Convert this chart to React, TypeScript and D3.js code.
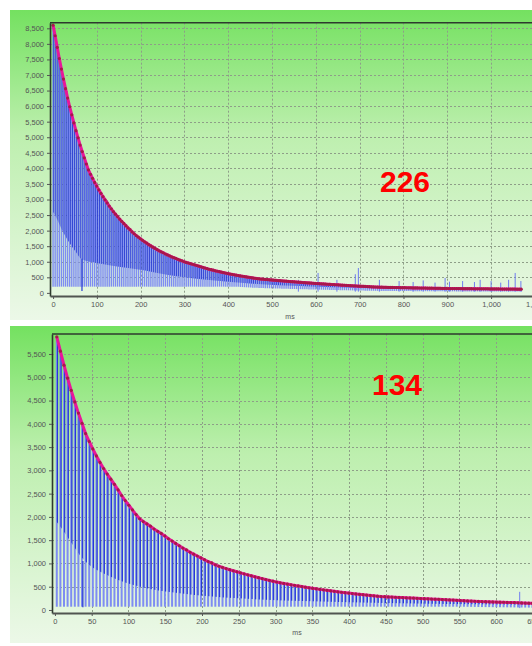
import React, { useRef, useEffect } from "react";
import * as d3 from "d3";

// top chart: 226 peaks, one every ~4.75 ms, heights
const peaks226 = [
  8600, 8260, 7890, 7530, 7190, 6870, 6560, 6260, 5980, 5720,
  5460, 5210, 4980, 4750, 4540, 4340, 4140, 3950, 3810, 3680,
  3550, 3430, 3310, 3200, 3090, 2990, 2890, 2790, 2700, 2610,
  2530, 2450, 2370, 2300, 2230, 2160, 2090, 2030, 1960, 1900,
  1840, 1790, 1740, 1690, 1640, 1600, 1550, 1510, 1470, 1430,
  1390, 1350, 1320, 1290, 1250, 1220, 1190, 1160, 1130, 1110,
  1080, 1050, 1030, 1000, 980, 960, 940, 920, 900, 880,
  860, 840, 820, 800, 780, 760, 745, 730, 710, 695,
  680, 665, 650, 635, 620, 607, 595, 582, 570, 558,
  546, 535, 524, 513, 502, 491, 481, 471, 461, 451,
  445, 439, 433, 427, 421, 415, 409, 403, 397, 392,
  386, 381, 376, 370, 365, 360, 355, 349, 344, 339,
  334, 329, 324, 319, 314, 309, 305, 300, 296, 291,
  287, 282, 278, 274, 270, 266, 262, 258, 253, 249,
  245, 241, 237, 233, 229, 225, 221, 217, 213, 210,
  206, 203, 199, 196, 193, 189, 186, 183, 182, 180,
  179, 177, 176, 174, 173, 172, 170, 169, 168, 166,
  165, 164, 162, 161, 160, 159, 157, 156, 155, 154,
  152, 151, 150, 149, 148, 147, 145, 144, 143, 142,
  141, 140, 140, 139, 138, 138, 137, 136, 136, 135,
  134, 134, 133, 132, 132, 131, 130, 130, 129, 129,
  128, 127, 127, 126, 126, 125, 124, 124, 123, 123,
  122, 122, 121, 120, 120, 119,
];
// lower edge of the dense dark band [ms, value]
const lower226 = [
  [-7, 2700], [0, 2600], [25, 1900], [50, 1350], [66, 1080], [100, 960], [150, 840],
  [210, 720], [260, 580], [350, 420], [450, 300], [600, 200], [800, 130], [1200, 90],
];
const spikes226 = [
  [560, 420], [605, 640], [648, 420], [690, 600], [697, 800], [745, 420], [790, 380],
  [822, 350], [845, 400], [872, 330], [895, 480], [905, 360], [935, 380], [962, 350],
  [975, 420], [1000, 380], [1022, 330], [1040, 420], [1055, 640], [1068, 380],
];
const dips226 = [[66, 1100]];
const xTicks226 = [0, 100, 200, 300, 400, 500, 600, 700, 800, 900, 1000, 1100];
const yTicks226 = [0, 500, 1000, 1500, 2000, 2500, 3000, 3500, 4000, 4500, 5000, 5500, 6000, 6500, 7000, 7500, 8000, 8500];

// bottom chart: 134 peaks, one every ~4.9 ms
const peaks134 = [
  5870, 5560, 5260, 4980, 4720, 4470, 4230, 4010, 3790, 3620,
  3460, 3310, 3170, 3040, 2920, 2810, 2700, 2580, 2460, 2350,
  2250, 2150, 2050, 1960, 1900, 1850, 1800, 1740, 1690, 1645,
  1590, 1530, 1480, 1430, 1380, 1330, 1290, 1240, 1200, 1160,
  1120, 1080, 1040, 1010, 970, 940, 915, 890, 865, 842,
  820, 798, 776, 755, 734, 713, 693, 674, 655, 636,
  619, 601, 584, 570, 556, 542, 529, 516, 503, 490,
  478, 466, 455, 443, 432, 422, 411, 401, 391, 381,
  372, 363, 354, 345, 336, 328, 320, 312, 304, 296,
  289, 285, 281, 277, 273, 269, 266, 262, 258, 255,
  251, 247, 243, 239, 235, 232, 228, 224, 221, 216,
  212, 208, 203, 199, 195, 191, 188, 184, 180, 178,
  175, 173, 170, 168, 166, 163, 161, 158, 155, 152,
  149, 146, 143, 141,
];
const lower134 = [
  [-4, 2000], [2, 1900], [20, 1500], [38, 1100], [75, 720], [116, 500], [170, 360],
  [250, 250], [350, 185], [450, 150], [700, 105],
];
const spikes134 = [[632, 390]];
const dips134 = [[38, 1050]];
const xTicks134 = [0, 50, 100, 150, 200, 250, 300, 350, 400, 450, 500, 550, 600, 650];
const yTicks134 = [0, 500, 1000, 1500, 2000, 2500, 3000, 3500, 4000, 4500, 5000, 5500];

const panels = [
  {
    id: "a", label: "226", labelX: 380, labelY: 192, bgTop: 10, bgBottom: 320,
    left: 50, right: 578.7, top: 22.7, bottom: 296,
    xDomain: [-7, 1200], yDomain: [-100, 8680],
    peaks: peaks226, t0: 0, step: 4.75, lower: lower226, spikes: spikes226, dips: dips226,
    xTicks: xTicks226, yTicks: yTicks226, floor: 200, liteW: 1.4, darkW: 0.9, msX: 290, msY: 319,
  },
  {
    id: "b", label: "134", labelX: 372, labelY: 395, bgTop: 326, bgBottom: 643,
    left: 52, right: 569.7, top: 334, bottom: 613,
    xDomain: [-4, 700], yDomain: [-65, 5930],
    peaks: peaks134, t0: 2.5, step: 4.9, lower: lower134, spikes: spikes134, dips: dips134,
    xTicks: xTicks134, yTicks: yTicks134, floor: 70, liteW: 2, darkW: 1.2, msX: 297, msY: 635,
  },
];

const FONT = "'Liberation Sans', Arial, sans-serif";

const App = () => {
  const svgRef = useRef(null);

  useEffect(() => {
    const svg = d3.select(svgRef.current);
    svg.selectAll("*").remove();

    const defs = svg.append("defs");
    const grad = defs.append("linearGradient").attr("id", "bg")
      .attr("x1", 0).attr("y1", 0).attr("x2", 0).attr("y2", 1);
    grad.append("stop").attr("offset", "0%").attr("stop-color", "#74e160");
    grad.append("stop").attr("offset", "40%").attr("stop-color", "#bdefae");
    grad.append("stop").attr("offset", "100%").attr("stop-color", "#ecf8e8");

    panels.forEach(p => drawPanel(svg, defs, p));
  }, []);

  const drawPanel = (svg, defs, p) => {
    const x = d3.scaleLinear().domain(p.xDomain).range([p.left, p.right]);
    const y = d3.scaleLinear().domain(p.yDomain).range([p.bottom, p.top]);
    const tAt = i => p.t0 + i * p.step;

    svg.append("rect")
      .attr("x", 10).attr("y", p.bgTop)
      .attr("width", 600).attr("height", p.bgBottom - p.bgTop)
      .attr("fill", "url(#bg)");

    defs.append("clipPath").attr("id", `plot-${p.id}`)
      .append("rect")
      .attr("x", p.left).attr("y", p.top)
      .attr("width", p.right - p.left).attr("height", p.bottom - p.top);

    const band = d3.area()
      .x(d => x(d[0]))
      .y0(d => y(d[1]))
      .y1(p.top)
      .curve(d3.curveMonotoneX);
    defs.append("clipPath").attr("id", `band-${p.id}`)
      .append("path").attr("d", band(p.lower));

    // dashed grid
    const grid = svg.append("g")
      .attr("stroke", "#8e9e88")
      .attr("stroke-width", 1)
      .attr("stroke-dasharray", "2,2");
    grid.selectAll(".h").data(p.yTicks.filter(v => v > 0)).join("line")
      .attr("x1", p.left).attr("x2", p.right)
      .attr("y1", d => Math.round(y(d)) + 0.5).attr("y2", d => Math.round(y(d)) + 0.5);
    grid.selectAll(".v").data(p.xTicks.filter(v => v > 0)).join("line")
      .attr("y1", p.top).attr("y2", p.bottom)
      .attr("x1", d => Math.round(x(d)) + 0.5).attr("x2", d => Math.round(x(d)) + 0.5);

    const plot = svg.append("g").attr("clip-path", `url(#plot-${p.id})`);

    // light bars: floor -> peak
    plot.append("g").selectAll("line").data(p.peaks).join("line")
      .attr("x1", (d, i) => x(tAt(i))).attr("x2", (d, i) => x(tAt(i)))
      .attr("y1", d => y(Math.min(p.floor, d * 0.35))).attr("y2", d => y(d))
      .attr("stroke", "#7e8cf2")
      .attr("stroke-width", p.liteW);

    // dark band above the lower edge
    plot.append("g").attr("clip-path", `url(#band-${p.id})`)
      .selectAll("line").data(p.peaks).join("line")
      .attr("x1", (d, i) => x(tAt(i)) + 0.7).attr("x2", (d, i) => x(tAt(i)) + 0.7)
      .attr("y1", y(0)).attr("y2", d => y(d))
      .attr("stroke", "#2638d4")
      .attr("stroke-width", p.darkW);

    plot.append("g").selectAll("line").data(p.dips).join("line")
      .attr("x1", d => x(d[0])).attr("x2", d => x(d[0]))
      .attr("y1", y(60)).attr("y2", d => y(d[1]))
      .attr("stroke", "#2638d4").attr("stroke-width", 1.2);

    plot.append("g").selectAll("line").data(p.spikes).join("line")
      .attr("x1", d => x(d[0])).attr("x2", d => x(d[0]))
      .attr("y1", y(40)).attr("y2", d => y(d[1]))
      .attr("stroke", "#6f7cf0").attr("stroke-width", 1);

    // envelope through the peaks
    const line = d3.line()
      .x((d, i) => x(tAt(i)))
      .y(d => y(d));
    plot.append("path")
      .attr("d", line(p.peaks))
      .attr("fill", "none")
      .attr("stroke", "#e8169a")
      .attr("stroke-width", 3);

    plot.append("g").selectAll("circle").data(p.peaks).join("circle")
      .attr("cx", (d, i) => x(tAt(i)))
      .attr("cy", d => y(d))
      .attr("r", 1.6)
      .attr("fill", "#a8184a");

    // axes
    const yAxis = svg.append("g")
      .attr("transform", `translate(${p.left},0)`)
      .call(d3.axisLeft(y).tickValues(p.yTicks).tickFormat(d3.format(",")).tickSize(3).tickPadding(3).tickSizeOuter(0));
    const xAxis = svg.append("g")
      .attr("transform", `translate(0,${p.bottom})`)
      .call(d3.axisBottom(x).tickValues(p.xTicks).tickFormat(d3.format(",")).tickSize(3).tickPadding(3).tickSizeOuter(0));

    [yAxis, xAxis].forEach(a => {
      a.selectAll("text").attr("fill", "#555").style("font-size", "7.5px").style("font-family", FONT);
      a.selectAll(".tick line").attr("stroke", "#555");
    });
    yAxis.select(".domain").attr("stroke", "#2e3a2e").attr("stroke-width", 1.6);
    xAxis.select(".domain").attr("stroke", "#505550").attr("stroke-width", 2);

    svg.append("line")
      .attr("x1", p.left).attr("x2", p.right)
      .attr("y1", p.top).attr("y2", p.top)
      .attr("stroke", "#2e3a2e").attr("stroke-width", 1.6);

    svg.append("text")
      .attr("x", p.msX).attr("y", p.msY)
      .attr("text-anchor", "middle")
      .style("font-size", "7px").style("font-family", FONT)
      .attr("fill", "#555")
      .text("ms");

    svg.append("text")
      .attr("x", p.labelX).attr("y", p.labelY)
      .style("font-size", "30px").style("font-weight", "bold").style("font-family", FONT)
      .attr("fill", "#ff0000")
      .text(p.label);
  };

  return (
    <svg
      ref={svgRef}
      width={532}
      height={646}
      style={{ position: "absolute", left: 0, top: 0, background: "#fff" }}
    />
  );
};

export default App;
